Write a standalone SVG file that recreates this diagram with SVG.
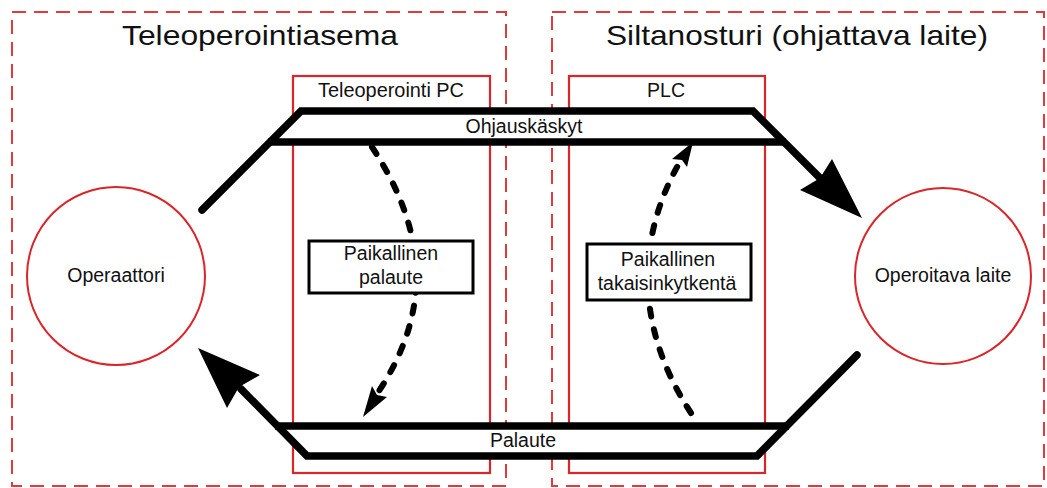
<svg xmlns="http://www.w3.org/2000/svg" width="1047" height="488" viewBox="0 0 1047 488">
<style>
.dashbox{fill:none;stroke:#e03a3a;stroke-width:2;stroke-dasharray:14 8}
.redbox{fill:none;stroke:#d9262a;stroke-width:2.2}
.circ{fill:#fff;stroke:#d9262a;stroke-width:2}
.band{fill:#fff;stroke:none}
.thick{fill:none;stroke:#000;stroke-width:7.5;stroke-linecap:round;stroke-linejoin:miter}
.inner{fill:none;stroke:#000;stroke-width:7.5;stroke-linecap:butt}
.dash{fill:none;stroke:#000;stroke-width:6;stroke-dasharray:8 13;stroke-linecap:round}
.lbl{fill:#fff;stroke:#000;stroke-width:3}
text{font-family:"Liberation Sans",Arial,sans-serif;fill:#111;text-anchor:middle}
.t1{font-size:28px}
.t2{font-size:19.5px}
</style>
<rect width="1047" height="488" fill="#fff"/>
<g id="teleoperointiasema">
  <rect class="dashbox" x="12" y="12" width="494" height="474"/>
  <text class="t1" x="260" y="45" textLength="276" lengthAdjust="spacingAndGlyphs">Teleoperointiasema</text>
</g>
<g id="siltanosturi">
  <rect class="dashbox" x="552" y="12" width="492" height="474"/>
  <text class="t1" x="797" y="45" textLength="382" lengthAdjust="spacingAndGlyphs">Siltanosturi (ohjattava laite)</text>
</g>
<g id="teleoperointi-pc">
  <rect class="redbox" x="293" y="76" width="197" height="397"/>
  <text class="t2" x="391" y="97" textLength="146" lengthAdjust="spacingAndGlyphs">Teleoperointi PC</text>
</g>
<g id="plc">
  <rect class="redbox" x="569" y="76" width="196" height="397"/>
  <text class="t2" x="666" y="97">PLC</text>
</g>
<g id="operaattori">
  <circle class="circ" cx="116" cy="276" r="89"/>
  <text class="t2" x="116" y="282">Operaattori</text>
</g>
<g id="operoitava-laite">
  <circle class="circ" cx="943" cy="276" r="88"/>
  <text class="t2" x="943" y="282">Operoitava laite</text>
</g>
<g id="connectors">
  <g id="ohjauskaskyt">
    <polygon class="band" points="301,111 753,111 784,142 270,142"/>
    <path class="thick" d="M202,210 L301,111 L753,111 L820,178"/>
    <path class="inner" d="M268,142 L786,142"/>
    <polygon points="862,218 800,190 820,178 832,159" fill="#000"/>
    <text class="t2" x="524" y="133">Ohjauskäskyt</text>
  </g>
  <g id="palaute">
    <polygon class="band" points="277,426 787,426 757,456 307,456"/>
    <path class="thick" d="M857,355 L757,456 L307,456 L241,389"/>
    <path class="inner" d="M275,426 L789,426"/>
    <polygon points="198,348 260,375 239,387 227,408" fill="#000"/>
    <text class="t2" x="523" y="447">Palaute</text>
  </g>
  <g id="paikallinen-palaute-arrow">
    <path class="dash" d="M372,147 C440,250 420,330 377,394"/>
    <polygon points="363,417 372,386 377,395 387,397" fill="#000"/>
  </g>
  <g id="takaisinkytkenta-arrow">
    <path class="dash" d="M691,413 C630,320 640,230 681,160"/>
    <polygon points="693,142 672,159 682,160 687,167" fill="#000"/>
  </g>
</g>
<g id="paikallinen-palaute">
  <rect class="lbl" x="309" y="241" width="164" height="52"/>
  <text class="t2" x="391" y="260">Paikallinen</text>
  <text class="t2" x="391" y="284">palaute</text>
</g>
<g id="paikallinen-takaisinkytkenta">
  <rect class="lbl" x="587" y="244" width="164" height="56"/>
  <text class="t2" x="668" y="266">Paikallinen</text>
  <text class="t2" x="667" y="290">takaisinkytkentä</text>
</g>
</svg>
